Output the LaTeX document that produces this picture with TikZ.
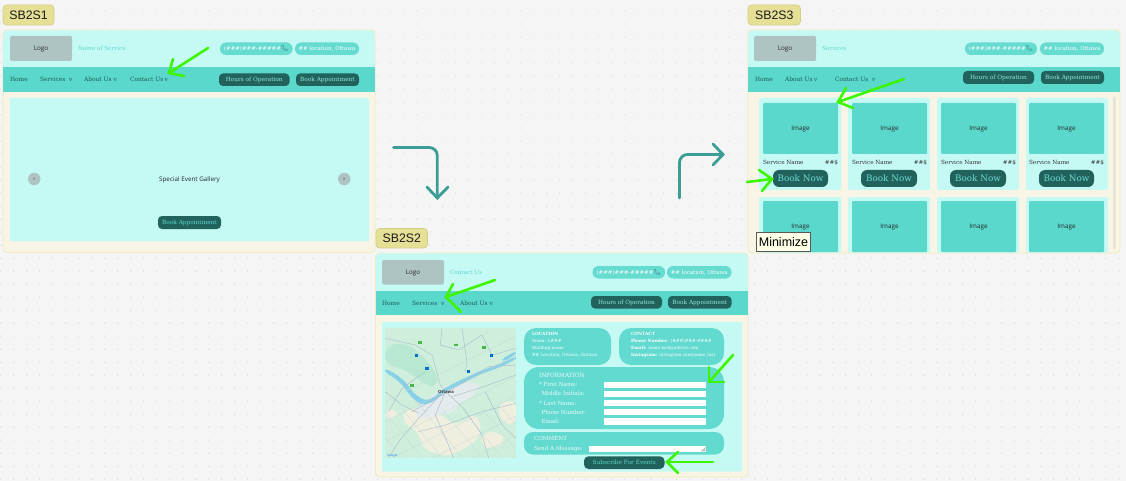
\documentclass[tikz,border=0pt]{standalone}
\usepackage{fontspec}
\setmainfont{DejaVu Serif}
\newfontfamily\lblfont{Liberation Sans}
\newfontfamily\uifont{Open Sans}
\newfontfamily\emojifont{Noto Emoji}
\definecolor{pagebg}{HTML}{F5F5F5}
\definecolor{griddot}{HTML}{C4C4C4}
\definecolor{cream}{HTML}{F8F5E6}
\definecolor{frameedge}{HTML}{EFEAB8}
\definecolor{lightcy}{HTML}{C5FAF4}
\definecolor{teal}{HTML}{5AD8CC}
\definecolor{darkteal}{HTML}{22625C}
\definecolor{logogrey}{HTML}{AEC4C2}
\definecolor{tagfill}{HTML}{E6E096}
\definecolor{tagedge}{HTML}{D4CD85}
\definecolor{flowteal}{HTML}{3A9E96}
\definecolor{markgreen}{HTML}{3DF500}
\definecolor{navtxt}{HTML}{1F5A55}
\definecolor{pilltxt}{HTML}{8FE8DE}
\definecolor{barcol}{HTML}{E6E3D3}
\definecolor{mapbg}{HTML}{CFEEDB}
\definecolor{mapgreen}{HTML}{B8E8D2}
\definecolor{mapsand}{HTML}{F0EEDF}
\definecolor{mapwater}{HTML}{86D0E8}
\definecolor{maproad}{HTML}{A9BFCE}
\definecolor{mapfine}{HTML}{C2DCD6}
\definecolor{mapcity}{HTML}{E4EBEC}
\tikzset{
  box/.style={inner sep=0pt,outer sep=0pt,text height=4.4pt,text depth=0pt},
  tagbox/.style={box,text height=9pt,fill=tagfill,draw=tagedge,line width=.6pt,rounded corners=3.5pt,font=\lblfont\fontsize{12.3}{13}\selectfont,text=black!90},
  framebox/.style={box,fill=cream,draw=frameedge,line width=.8pt,rounded corners=4pt},
  navbar/.style={box,fill=teal},
  logobox/.style={box,fill=logogrey,rounded corners=1.5pt,font=\uifont\fontsize{6.3}{7}\selectfont,text=black!85},
  panelbox/.style={box,fill=lightcy,rounded corners=1pt},
  infopill/.style={box,fill=teal!93!white,rounded corners=6pt,text=white,font=\fontsize{5.5}{6}\selectfont},
  darkpill/.style={box,fill=darkteal,rounded corners=4pt,text=pilltxt,font=\fontsize{5.8}{6}\selectfont},
  navtext/.style={box,anchor=west,text=navtxt,font=\fontsize{5.9}{6}\selectfont},
  pagetitle/.style={box,anchor=west,text=teal,font=\fontsize{5.7}{6}\selectfont},
  imgbox/.style={box,fill=teal,rounded corners=1pt,font=\uifont\fontsize{6.3}{7}\selectfont,text=black!85},
  cardbox/.style={box,fill=lightcy,rounded corners=1.5pt},
  minitext/.style={inner sep=0pt,outer sep=0pt,anchor=north west,text=white,align=left,font=\fontsize{4.3}{7}\selectfont},
  formlabel/.style={box,anchor=west,text=white!90!teal,font=\fontsize{5.6}{6}\selectfont},
  fieldbox/.style={box,fill=white},
  bubble/.style={box,fill=teal!95!white,rounded corners=12pt},
  flowline/.style={draw=flowteal,line width=2.8pt,line cap=round,line join=round,rounded corners=8pt},
  flowhead/.style={draw=flowteal,line width=2.8pt,line cap=round,line join=miter},
  greenmark/.style={draw=markgreen,line width=2.6pt,line cap=round,line join=miter},
  mapbadge/.style={inner sep=0pt,minimum width=3.4pt,minimum height=2.6pt},
}
\newcommand{\bx}[7]{%
  \pgfmathsetmacro{\cxx}{(#3+#5)/2}\pgfmathsetmacro{\cyy}{(#4+#6)/2}%
  \pgfmathsetmacro{\ww}{#5-#3}\pgfmathsetmacro{\hh}{#6-#4}%
  \node[#2,minimum width=\ww pt,minimum height=\hh pt] (#1) at (\cxx,\cyy) {#7};}
\newcommand{\phoneglyph}{{\emojifont\fontsize{6}{6}\selectfont\textcolor{navtxt}{\symbol{"1F4DE}}}}
\newcommand{\markarrow}[5]{%
  \coordinate (#1s) at (#2);\coordinate (#1t) at (#3);\coordinate (#1a) at (#4);\coordinate (#1b) at (#5);
  \draw[greenmark] (#1s) -- (#1t);
  \draw[greenmark] (#1a) -- (#1t) -- (#1b);}
\begin{document}
\begin{tikzpicture}[x=1pt,y=-1pt]
\useasboundingbox (0,0) rectangle (1126,481);
\fill[pagebg] (0,0) rectangle (1126,481);
\fill[griddot] foreach \i in {0,...,86}{ foreach \j in {0,...,36}{
   (0.3+13*\i,10.6+13*\j) rectangle ++(0.9,0.9) } };

%%%%%%%%%%%% SB2S1
\bx{tagA}{tagbox}{3}{5}{54}{25}{SB2S1}
\bx{frameA}{framebox}{3}{30}{375}{252.5}{}
\fill[lightcy,rounded corners=3.5pt] (3.4,30.4) rectangle (374.6,50);
\fill[lightcy] (3.4,40) rectangle (374.6,68);
\bx{navA}{navbar}{3.4}{67.5}{374.6}{92}{}
\bx{logoA}{logobox}{10}{36}{72}{61}{Logo}
\node[pagetitle] (titleA) at (78,48.5) {Name of Service};
\bx{phoneA}{infopill}{220}{42.5}{292.5}{55}{(\#\#\#)\#\#\#-\#\#\#\#\#\phoneglyph}
\bx{locA}{infopill}{295}{42.5}{359}{55}{\#\# location, Ottawa}
\node[navtext] (homeA) at (10,79.5) {Home};
\node[navtext] (servA) at (40,79.5) {Services};
\node[navtext] (servAv) at (69,79.5) {v};
\node[navtext] (aboutA) at (84,79.5) {About Us};
\node[navtext] (aboutAv) at (113.5,79.5) {v};
\node[navtext] (contA) at (130,79.5) {Contact Us};
\node[navtext] (contAv) at (164.5,79.5) {v};
\bx{hoursA}{darkpill}{219}{73.5}{289.5}{86}{Hours of Operation}
\bx{bookA}{darkpill}{296}{73.5}{359}{86}{Book Appointment}
\bx{panelA}{panelbox}{10}{98}{369}{241}{}
\bx{prevA}{box,circle,text height=3pt,fill=logogrey,font=\uifont\fontsize{4}{4}\selectfont}{28}{173}{40.5}{185}{<}
\bx{nextA}{box,circle,text height=3pt,fill=logogrey,font=\uifont\fontsize{4}{4}\selectfont}{338}{173}{350.5}{185}{>}
\node[box,font=\uifont\fontsize{6.3}{7}\selectfont,text=black!85] (galA) at (189.5,179.3) {Special Event Gallery};
\bx{apptA}{darkpill,text=teal}{158}{216}{221}{229}{Book Appointment}
\markarrow{mA}{208,48}{169,73}{173,59}{184,76}

%%%%%%%%%%%% SB2S3
\bx{tagC}{tagbox}{748}{5}{800.5}{25}{SB2S3}
\bx{frameC}{framebox}{748}{30}{1120}{253}{}
\fill[lightcy,rounded corners=3.5pt] (748.4,30.4) rectangle (1119.6,50);
\fill[lightcy] (748.4,40) rectangle (1119.6,68);
\bx{navC}{navbar}{748.4}{67.5}{1119.6}{92}{}
\bx{logoC}{logobox}{754}{36}{816}{61}{Logo}
\node[pagetitle] (titleC) at (822,48.5) {Services};
\bx{phoneC}{infopill}{965}{42.5}{1037}{55}{(\#\#\#)\#\#\#-\#\#\#\#\#\phoneglyph}
\bx{locC}{infopill}{1040}{42.5}{1104}{55}{\#\# location, Ottawa}
\node[navtext] (homeC) at (755,79.5) {Home};
\node[navtext] (aboutC) at (785,79.5) {About Us};
\node[navtext] (aboutCv) at (814,79.5) {v};
\node[navtext] (contC) at (835,79.5) {Contact Us};
\node[navtext] (contCv) at (872,79.5) {v};
\bx{hoursC}{darkpill}{963}{71}{1034}{84}{Hours of Operation}
\bx{bookC}{darkpill}{1041}{71}{1104}{84}{Book Appointment}
\foreach \n/\cla/\crb/\ila/\irb/\bla/\brb in {1/759/841/763/838/773/828, 2/848/930/852/927/861/917, 3/937/1019/941/1016/950/1006, 4/1026/1108/1029/1104/1039/1094}{
  \bx{cardt\n}{cardbox}{\cla}{98}{\crb}{190}{}
  \bx{imgt\n}{imgbox}{\ila}{103}{\irb}{154}{Image}
  \node[box,anchor=west,text=black!80,font=\fontsize{5.7}{6}\selectfont] (namet\n) at (\ila,162.3) {Service Name};
  \node[box,anchor=east,text=black!80,font=\fontsize{5.7}{6}\selectfont] (pricet\n) at (\irb,162.3) {\#\#\$};
  \bx{nowt\n}{darkpill,text height=6.6pt,rounded corners=6pt,text=teal!90!white,font=\fontsize{8.8}{10}\selectfont}{\bla}{170}{\brb}{187}{Book Now}
  \bx{cardb\n}{cardbox}{\cla}{197}{\crb}{252.6}{}
  \bx{imgb\n}{imgbox}{\ila}{201}{\irb}{252}{Image}
}
\bx{scrollC}{box,fill=barcol,rounded corners=1pt}{1113}{97}{1115.6}{249}{}
\bx{tipC}{box,text height=9pt,fill=yellow!10!white,draw=black!65,line width=.7pt,font=\lblfont\fontsize{12.5}{13}\selectfont,text=black}{756.5}{232.5}{810.5}{251}{Minimize}
\markarrow{mC}{904,79}{838,102}{846,88}{853,108}
\markarrow{mD}{747,182}{772,179}{759,170}{762,191}

%%%%%%%%%%%% SB2S2
\bx{frameB}{framebox}{375.5}{253}{748}{477}{}
\fill[lightcy,rounded corners=3.5pt] (375.9,253.4) rectangle (747.6,272);
\fill[lightcy] (375.9,262) rectangle (747.6,291.5);
\bx{navB}{navbar}{375.9}{291}{747.6}{315}{}
\bx{tagB}{tagbox}{376}{228.5}{427.5}{248}{SB2S2}
\bx{logoB}{logobox}{382}{260}{444}{284.5}{Logo}
\node[pagetitle] (titleB) at (450,272) {Contact Us};
\bx{phoneB}{infopill}{592.5}{266}{665}{278.5}{(\#\#\#)\#\#\#-\#\#\#\#\#\phoneglyph}
\bx{locB}{infopill}{667}{266}{731.5}{278.5}{\#\# location, Ottawa}
\node[navtext] (homeB) at (382,303) {Home};
\node[navtext] (servB) at (412,303) {Services};
\node[navtext] (servBv) at (441,303) {v};
\node[navtext] (aboutB) at (460,303) {About Us};
\node[navtext] (aboutBv) at (489.5,303) {v};
\bx{hoursB}{darkpill}{591}{296}{662}{308.5}{Hours of Operation}
\bx{bookB}{darkpill}{668}{296}{731.5}{308.5}{Book Appointment}
\bx{panelB}{panelbox}{382}{322}{742}{471.5}{}

% map
\begin{scope}[shift={(382pt,-325pt)},x=.3333pt,y=-.3333pt]
\clip (9,9) rectangle (402,399);
\fill[mapbg] (9,9) rectangle (402,399);
\fill[mapsand,rounded corners=8pt] (70,250) -- (160,255) -- (215,300) -- (260,285) -- (275,260) -- (300,300) -- (290,345) -- (200,395) -- (125,375) -- (110,320) -- (60,290) -- cycle;
\fill[mapsand,rounded corners=8pt] (300,325) -- (345,318) -- (375,345) -- (330,375) -- (295,360) -- cycle;
\fill[mapsand,rounded corners=8pt] (345,235) -- (402,225) -- (402,300) -- (360,295) -- cycle;
\fill[mapsand,rounded corners=8pt] (9,250) -- (50,255) -- (45,280) -- (9,285) -- cycle;
\fill[mapgreen,rounded corners=10pt] (9,62) -- (70,52) -- (120,90) -- (165,145) -- (168,190) -- (130,180) -- (95,150) -- (50,125) -- (9,120) -- cycle;
\fill[mapcity,rounded corners=6pt] (95,260) -- (150,210) -- (195,180) -- (260,170) -- (300,180) -- (270,215) -- (230,235) -- (215,265) -- (160,270) -- (115,285) -- cycle;
\fill[mapfine!70!mapcity,rounded corners=4pt] (88,215) -- (110,225) -- (125,245) -- (105,240) -- cycle;
\fill[mapwater,rounded corners=4pt] (9,130) -- (40,146) -- (70,170) -- (95,205) -- (130,228) -- (160,214) -- (180,194) -- (230,168) -- (290,140) -- (345,120) -- (402,94) -- (402,103) -- (350,128) -- (295,148) -- (240,176) -- (185,203) -- (150,233) -- (120,240) -- (85,213) -- (60,178) -- (30,153) -- (9,143) -- cycle;
\fill[mapwater,rounded corners=3pt] (360,102) -- (402,78) -- (402,88) -- (365,110) -- cycle;
% fine farm-road grid
\draw[mapfine,line width=.2pt]
  foreach \k in {-4,...,7}{ (60*\k,250) -- ++(130,160) }
  foreach \k in {0,...,6}{ (9,230+60*\k) -- ++(400,-200) };
\draw[maproad,line width=.45pt] (9,40) -- (100,60) -- (150,90) -- (175,180) -- (190,200)
  (180,10) -- (175,60) -- (230,75) -- (300,30)
  (190,200) -- (245,250) -- (300,330) -- (320,399)
  (190,200) -- (160,270) -- (195,350) -- (215,399)
  (90,260) -- (190,205) -- (320,125) -- (402,120)
  (180,205) -- (110,280) -- (50,350) -- (20,399)
  (210,215) -- (290,190) -- (402,150)
  (9,200) -- (60,240) -- (110,265)
  (240,10) -- (255,110) -- (250,140)
  (300,30) -- (330,90) -- (402,70)
  (110,320) -- (190,300) -- (300,260) -- (402,235)
  (130,140) -- (60,190) -- (20,260)
  (310,200) -- (360,300) -- (402,340);
\foreach \q/\u/\v in {1/114/52,2/222/60,3/306/68,4/90/181}{\node[mapbadge,fill=green!45!gray] (gb\q) at (\u,\v) {};}
\foreach \q/\u/\v in {1/104/91,2/135/131,3/329/91,4/260/139}{\node[mapbadge,fill=blue!45!cyan!80!black] (bb\q) at (\u,\v) {};}
\node[box,text height=3pt,font=\uifont\bfseries\fontsize{4.2}{4}\selectfont,text=black!80] (mapcityname) at (192,202) {Ottawa};
\node[box,text height=2.2pt,font=\uifont\fontsize{3}{3}\selectfont,text=blue!50!cyan] (mapgoogle) at (31,392) {Google};
\end{scope}

\bx{locBub}{bubble}{524}{328}{611}{365}{}
\node[minitext] (locTxt) at (532,332.5) {\textbf{LOCATION}\\Room: L\#\#\#\\Building name\\\#\# Location, Ottawa, Ontario};
\bx{conBub}{bubble}{619}{328}{724}{365}{}
\node[minitext] (conTxt) at (631,332.5) {\textbf{CONTACT}\\\textbf{Phone Number:} (\#\#\#)\#\#\#-\#\#\#\#\\\textbf{Email:} name.last@adress.com\\\textbf{Instagram:} instagram.com/name\_last};
\bx{infoBub}{bubble,rounded corners=15pt}{524}{367}{724}{429}{}
\node[formlabel,font=\fontsize{5.7}{6}\selectfont] (infoHead) at (539,375.3) {INFORMATION};
\node[formlabel] (lab1) at (539,384.5) {* First Name:};
\node[formlabel] (lab2) at (541.5,393.6) {Middle Initials:};
\node[formlabel] (lab3) at (539,403) {* Last Name:};
\node[formlabel] (lab4) at (541.5,412.2) {Phone Number:};
\node[formlabel] (lab5) at (541.5,421.5) {Email:};
\foreach \n/\ya/\yb in {1/381.7/388.3,2/390.7/397.3,3/399.5/406,4/408.7/415.3,5/418/424.5}{
  \bx{fld\n}{fieldbox}{604}{\ya}{706}{\yb}{}
}
\bx{comBub}{bubble,rounded corners=9pt}{524}{432}{724}{454.5}{}
\node[formlabel] (comHead) at (534,438.5) {COMMENT};
\node[formlabel] (comLab) at (534,448) {Send A Message:};
\bx{msgBox}{fieldbox}{589}{445.5}{706}{452}{}
\draw[black!45,line width=.4pt] (701.5,451.5) -- (705.5,447.5) (703.5,451.5) -- (705.5,449.5);
\bx{subBtn}{darkpill,rounded corners=4.5pt,text=teal}{584}{456.3}{664.5}{469}{Subscribe For Events}
\markarrow{mB}{495,280}{446,297}{453,284}{461,312}
\markarrow{mE}{733,355}{709,382}{709,367}{724,382}
\markarrow{mF}{713,462}{667,462}{678,452}{678,473}

%%%%%%%%%%%% flow arrows
\coordinate (f1s) at (393.5,147.5);
\coordinate (f1c) at (437.3,147.5);
\coordinate (f1t) at (437.3,198);
\coordinate (f1a) at (427,187);
\coordinate (f1b) at (448,187);
\draw[flowline] (f1s) -- (f1c) -- (f1t);
\draw[flowhead] (f1a) -- (f1t) -- (f1b);
\coordinate (f2s) at (679.5,198);
\coordinate (f2c) at (679.5,154.5);
\coordinate (f2t) at (723,154.5);
\coordinate (f2a) at (713,144);
\coordinate (f2b) at (713,165);
\draw[flowline] (f2s) -- (f2c) -- (f2t);
\draw[flowhead] (f2a) -- (f2t) -- (f2b);
\end{tikzpicture}
\end{document}
